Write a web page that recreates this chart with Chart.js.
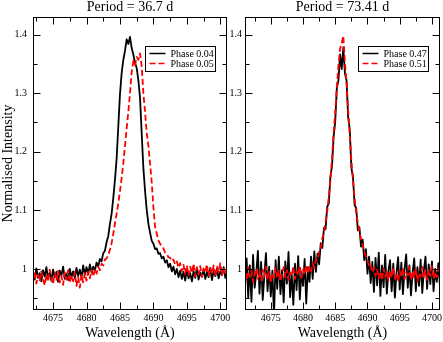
<!DOCTYPE html>
<html>
<head>
<meta charset="utf-8">
<script src="https://cdn.jsdelivr.net/npm/chart.js@4/dist/chart.umd.min.js"></script>
<style>
  html, body { margin: 0; padding: 0; background: #fff; }
  #wrap { position: relative; width: 443px; height: 342px; }
  #wrap canvas { position: absolute; left: 0; top: 0; }
</style>
</head>
<body>
<div id="wrap">
  <canvas id="left" width="443" height="342"></canvas>
  <canvas id="right" width="443" height="342"></canvas>
</div>
<script>
// sampling of the spectra (Angstrom)
const STEP = 0.25;
const LEFT_START = 4672;
const RIGHT_START = 4671;

const x_ticks = [4675, 4680, 4685, 4690, 4695, 4700];
const x_minor_ticks = [4672.5, 4677.5, 4682.5, 4687.5, 4692.5, 4697.5];
const y_ticks = [1, 1.1, 1.2, 1.3, 1.4];
const y_minor_ticks = [0.95, 1.05, 1.15, 1.25, 1.35];

// Period = 36.7 d, one row per Angstrom starting at 4672
const phase_004 = [
  0.996, 0.982, 1.001, 0.985,
  0.993, 0.979, 0.998, 0.987,
  1.003, 0.984, 0.994, 0.980,
  0.999, 0.986, 0.995, 0.978,
  0.997, 0.989, 1.004, 0.983,
  0.992, 0.981, 1.000, 0.986,
  0.996, 0.984, 1.002, 0.988,
  0.999, 0.985, 1.006, 0.990,
  1.003, 0.991, 1.008, 0.994,
  1.004, 0.997, 1.011, 1.004,
  1.017, 1.013, 1.027, 1.031,
  1.046, 1.056, 1.077, 1.094,
  1.121, 1.152, 1.188, 1.243,
  1.298, 1.334, 1.357, 1.372,
  1.392, 1.384, 1.396, 1.377,
  1.366, 1.352, 1.343, 1.322,
  1.292, 1.231, 1.172, 1.133,
  1.101, 1.077, 1.062, 1.048,
  1.043, 1.034, 1.035, 1.026,
  1.027, 1.018, 1.021, 1.011,
  1.015, 1.003, 1.009, 0.996,
  1.004, 0.991, 1.000, 0.986,
  0.997, 0.983, 0.995, 0.980,
  0.998, 0.984, 0.993, 0.979,
  0.996, 0.985, 1.001, 0.982,
  0.994, 0.987, 0.999, 0.983,
  0.995, 0.986, 1.002, 0.981,
  0.997, 0.988, 1.000, 0.984,
  0.996, 0.990, 1.003, 0.985,
  0.994
];
const phase_005 = [
  0.981, 0.995, 0.975, 0.990,
  0.979, 0.996, 0.983, 0.972,
  0.991, 0.978, 0.999, 0.984,
  0.974, 0.993, 0.980, 0.997,
  0.977, 0.988, 0.973, 0.994,
  0.982, 0.998, 0.976, 0.989,
  0.979, 0.995, 0.971, 0.986,
  0.968, 0.990, 0.977, 0.993,
  0.980, 0.995, 0.984, 0.998,
  0.987, 1.000, 0.992, 1.004,
  0.998, 1.009, 1.006, 1.016,
  1.018, 1.024, 1.033, 1.044,
  1.060, 1.078, 1.094, 1.112,
  1.133, 1.155, 1.180, 1.210,
  1.240, 1.268, 1.300, 1.336,
  1.355, 1.348, 1.362, 1.357,
  1.368, 1.346, 1.300, 1.268,
  1.232, 1.210, 1.180, 1.148,
  1.105, 1.072, 1.060, 1.049,
  1.043, 1.038, 1.035, 1.028,
  1.026, 1.020, 1.019, 1.013,
  1.016, 1.008, 1.013, 1.002,
  1.010, 0.996, 1.007, 0.992,
  1.006, 0.989, 1.004, 0.993,
  1.009, 0.987, 1.003, 0.991,
  1.005, 0.986, 1.001, 0.994,
  1.008, 0.988, 1.002, 0.992,
  1.006, 0.987, 1.004, 0.995,
  1.010, 0.989, 1.003, 0.993,
  1.001
];

// Period = 73.41 d, one row per Angstrom starting at 4671
const phase_047 = [
  0.972, 1.018, 0.951, 1.006,
  0.944, 1.024, 0.968, 0.993,
  1.031, 0.958, 1.012, 0.947,
  0.989, 1.027, 0.962, 1.004,
  0.953, 0.997, 0.918, 1.015,
  0.966, 1.021, 0.957, 0.998,
  0.943, 1.013, 0.975, 1.029,
  0.952, 0.991, 0.939, 1.009,
  0.964, 1.022, 0.948, 0.995,
  0.971, 1.017, 0.941, 1.003,
  0.978, 1.021, 0.983, 1.030,
  0.995, 1.026, 1.008, 1.044,
  1.036, 1.070, 1.068, 1.106,
  1.112, 1.158, 1.176, 1.226,
  1.252, 1.309, 1.322, 1.366,
  1.341, 1.378, 1.334, 1.322,
  1.259, 1.238, 1.172, 1.158,
  1.109, 1.104, 1.066, 1.071,
  1.038, 1.050, 1.015, 1.034,
  0.992, 1.021, 0.976, 1.012,
  0.961, 1.019, 0.972, 1.028,
  0.954, 1.006, 0.969, 1.024,
  0.958, 0.997, 1.015, 0.962,
  1.009, 0.951, 0.993, 1.020,
  0.965, 1.011, 0.957, 0.999,
  1.025, 0.968, 1.006, 0.955,
  0.994, 1.018, 0.962, 1.003,
  0.971, 1.016, 0.959, 0.998,
  1.021, 0.966, 1.008, 0.974,
  1.013, 0.962, 1.000, 0.978,
  1.010, 0.969
];
const phase_051 = [
  0.994, 0.981, 1.003, 0.986,
  0.997, 0.978, 0.992, 1.001,
  0.983, 0.996, 0.980, 0.999,
  0.987, 1.004, 0.982, 0.995,
  0.976, 0.993, 0.985, 1.002,
  0.984, 0.997, 0.979, 0.991,
  1.003, 0.986, 0.998, 0.981,
  0.994, 0.988, 1.005, 0.983,
  0.996, 0.989, 1.006, 0.985,
  0.999, 0.990, 1.007, 0.992,
  1.004, 0.996, 1.009, 1.002,
  1.016, 1.015, 1.031, 1.036,
  1.053, 1.061, 1.081, 1.098,
  1.124, 1.152, 1.188, 1.233,
  1.268, 1.312, 1.348, 1.376,
  1.385, 1.398, 1.352, 1.318,
  1.271, 1.229, 1.186, 1.150,
  1.121, 1.097, 1.079, 1.064,
  1.050, 1.041, 1.030, 1.022,
  1.015, 1.005, 1.008, 0.994,
  1.002, 0.988, 0.999, 0.984,
  0.996, 0.981, 1.001, 0.987,
  0.995, 0.980, 0.998, 0.985,
  1.003, 0.983, 0.993, 0.978,
  0.997, 0.986, 1.002, 0.982,
  0.994, 0.989, 1.004, 0.981,
  0.996, 0.985, 1.000, 0.979,
  0.993, 0.987, 1.003, 0.984,
  0.997, 0.982, 0.999, 0.988,
  1.005, 0.983, 0.995, 0.986,
  1.001, 0.990
];

const SERIF = '"Liberation Serif", "Times New Roman", serif';

function wavelengths(start, n) {
    const out = [];
    for (let i = 0; i < n; i++) out.push(start + i * STEP);
    return out;
}

// frame, inward ticks, titles and the boxed legend (xmgrace look)
const frame_plugin = {
    id: 'frame',
    afterDraw(chart) {
        const { ctx, chartArea: a, scales: { x, y } } = chart;
        const o = chart.options.plugins.frame;
        const L = Math.round(a.left) + 0.5, R = Math.round(a.right) - 0.5;
        const T = Math.round(a.top) + 0.5, B = Math.round(a.bottom) - 0.5;
        ctx.save();
        ctx.strokeStyle = '#000';
        ctx.lineWidth = 1;
        ctx.strokeRect(L, T, R - L, B - T);

        const tick = (x1, y1, x2, y2) => {
            ctx.beginPath(); ctx.moveTo(x1, y1); ctx.lineTo(x2, y2); ctx.stroke();
        };
        const xt = (list, len) => list.forEach(v => {
            const px = Math.round(x.getPixelForValue(v)) + 0.5;
            tick(px, B, px, B - len);
            tick(px, T, px, T + len);
        });
        const yt = (list, len) => list.forEach(v => {
            const py = Math.round(y.getPixelForValue(v)) + 0.5;
            tick(L, py, L + len, py);
            tick(R, py, R - len, py);
        });
        xt(x_ticks, 7); xt(x_minor_ticks, 4);
        yt(y_ticks, 7); yt(y_minor_ticks, 4);

        // titles
        ctx.fillStyle = '#000';
        ctx.font = '14px ' + SERIF;
        ctx.textAlign = 'center';
        ctx.textBaseline = 'alphabetic';
        const cx = (a.left + a.right) / 2;
        ctx.fillText(o.title, cx, a.top - 6);
        ctx.fillText('Wavelength (Å)', cx, a.bottom + 27);
        if (o.y_title) {
            ctx.save();
            ctx.translate(12, (a.top + a.bottom) / 2);
            ctx.rotate(-Math.PI / 2);
            ctx.fillText(o.y_title, 0, 0);
            ctx.restore();
        }

        // legend box
        const bw = 70, bh = 25;
        const bx = Math.round(a.right - 12 - bw) + 0.5;
        const by = Math.round(a.top + 29) + 0.5;
        ctx.strokeRect(bx, by, bw, bh);
        ctx.font = '10px ' + SERIF;
        ctx.textAlign = 'left';
        ctx.textBaseline = 'middle';
        chart.data.datasets.forEach((ds, i) => {
            const ly = by + 7 + i * 10;
            ctx.strokeStyle = ds.borderColor;
            ctx.lineWidth = 1.5;
            ctx.setLineDash(ds.borderDash || []);
            tick(bx + 4, ly, bx + 20, ly);
            ctx.setLineDash([]);
            ctx.fillStyle = '#000';
            ctx.fillText(ds.label, bx + 25, ly + 0.5);
        });
        ctx.restore();
    }
};

function make_panel(canvas_id, cfg) {
    const labels = wavelengths(cfg.start, cfg.black.length);
    const config = {
        type: 'line',
        data: {
            labels,
            datasets: [
                {
                    label: cfg.black_label, data: cfg.black,
                    borderColor: '#000', borderWidth: 1.8, order: 1
                },
                {
                    label: cfg.red_label, data: cfg.red,
                    borderColor: '#ff0000', borderWidth: 1.8, borderDash: [6, 3], order: 0
                }
            ]
        },
        options: {
            responsive: false,
            animation: false,
            devicePixelRatio: 1,
            events: [],
            layout: { padding: cfg.padding },
            elements: {
                point: { radius: 0 },
                line: { tension: 0, fill: false, borderJoinStyle: 'round' }
            },
            scales: {
                x: {
                    type: 'linear',
                    min: cfg.x_min,
                    max: cfg.x_max,
                    afterBuildTicks: s => { s.ticks = x_ticks.map(v => ({ value: v })); },
                    afterFit: s => { s.height = 32; s.paddingLeft = 0; s.paddingRight = 0; },
                    grid: { display: false, drawTicks: false },
                    border: { display: false },
                    ticks: {
                        padding: 2, color: '#000', maxRotation: 0, autoSkip: false,
                        font: { family: SERIF, size: 10 },
                        callback: v => String(v)
                    }
                },
                y: {
                    min: 0.93,
                    max: 1.43,
                    afterBuildTicks: s => { s.ticks = y_ticks.map(v => ({ value: v })); },
                    afterFit: s => { s.width = 33; s.paddingTop = 0; s.paddingBottom = 0; },
                    grid: { display: false, drawTicks: false },
                    border: { display: false },
                    ticks: {
                        padding: cfg.y_label_pad, color: '#000',
                        font: { family: SERIF, size: 10 },
                        callback: v => String(Number(v.toFixed(1)))
                    }
                }
            },
            plugins: {
                legend: { display: false },
                tooltip: { enabled: false },
                frame: { title: cfg.title, y_title: cfg.y_title }
            }
        },
        plugins: [frame_plugin]
    };
    return new Chart(document.getElementById(canvas_id), config);
}

make_panel('left', {
    title: 'Period = 36.7 d',
    y_title: 'Normalised Intensity',
    start: LEFT_START, x_min: 4672, x_max: 4701,
    black: phase_004, black_label: 'Phase 0.04',
    red: phase_005, red_label: 'Phase 0.05',
    padding: { left: 0, top: 17, right: 216, bottom: 0 },
    y_label_pad: 6
});

make_panel('right', {
    title: 'Period = 73.41 d',
    y_title: null,
    start: RIGHT_START, x_min: 4671, x_max: 4701.25,
    black: phase_047, black_label: 'Phase 0.47',
    red: phase_051, red_label: 'Phase 0.51',
    padding: { left: 212, top: 17, right: 3, bottom: 0 },
    y_label_pad: 3
});
</script>
</body>
</html>
